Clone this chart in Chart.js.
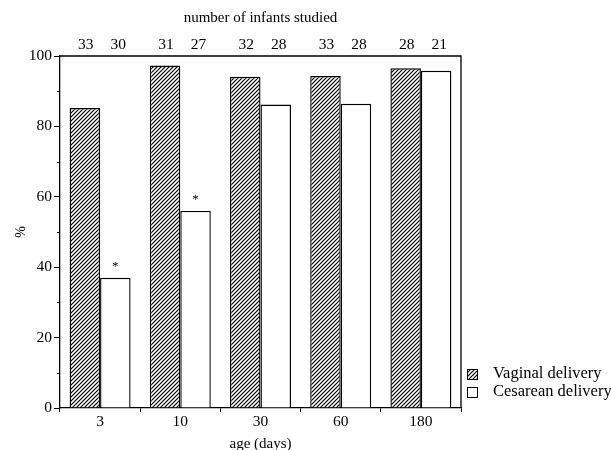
<!DOCTYPE html>
<html>
<head>
<meta charset="utf-8">
<script src="https://cdn.jsdelivr.net/npm/chart.js@4"></script>
<style>
  body { margin: 0; background: #fff; }
  canvas { display: block; }
</style>
</head>
<body>
<canvas id="myChart" width="611" height="450"></canvas>
<script>
// data
const ages = ["3", "10", "30", "60", "180"];
const vaginal = [85.2, 97.3, 94.1, 94.3, 96.5];
const cesarean = [37, 56, 86.2, 86.4, 95.8];
const vaginalN = [33, 31, 32, 33, 28];
const cesareanN = [30, 27, 28, 28, 21];
const cesareanStar = [true, true, false, false, false];
const minorTicks = [10, 30, 50, 70, 90];

const serif = '"Liberation Serif", "DejaVu Serif", serif';

// diagonal hatch for the vaginal bars
let makeHatch = () => {
    let c = document.createElement("canvas");
    c.width = 4;
    c.height = 4;
    let g = c.getContext("2d");
    g.fillStyle = "#fff";
    g.fillRect(0, 0, 4, 4);
    g.strokeStyle = "#000";
    g.lineWidth = 1.2;
    g.beginPath();
    g.moveTo(0, 4); g.lineTo(4, 0);
    g.moveTo(-1, 1); g.lineTo(1, -1);
    g.moveTo(3, 5); g.lineTo(5, 3);
    g.stroke();
    return g.createPattern(c, "repeat");
};
const hatch = makeHatch();

// extra drawing: frame, minor ticks, counts, asterisks, legend
const extras = {
    id: "extras",
    afterDatasetsDraw(chart) {
        let ctx = chart.ctx;
        let area = chart.chartArea;
        let y = chart.scales.y;
        ctx.save();
        ctx.strokeStyle = "#000";
        ctx.lineWidth = 1.3;
        ctx.beginPath();
        ctx.moveTo(area.left, area.top);
        ctx.lineTo(area.right, area.top);
        ctx.lineTo(area.right, area.bottom);
        ctx.stroke();

        ctx.lineWidth = 1;
        ctx.beginPath();
        for (let v of minorTicks) {
            let py = Math.round(y.getPixelForValue(v)) + 0.5;
            ctx.moveTo(area.left - 3, py);
            ctx.lineTo(area.left, py);
        }
        ctx.stroke();

        ctx.fillStyle = "#000";
        ctx.textAlign = "center";
        ctx.textBaseline = "middle";
        ctx.font = "15px " + serif;
        ctx.fillText("number of infants studied", (area.left + area.right) / 2, 18);

        let m0 = chart.getDatasetMeta(0).data;
        let m1 = chart.getDatasetMeta(1).data;
        ctx.font = "15.5px " + serif;
        for (let i = 0; i < ages.length; i++) {
            ctx.fillText(String(vaginalN[i]), m0[i].x + 1, 45);
            ctx.fillText(String(cesareanN[i]), m1[i].x + 3, 45);
        }

        ctx.font = "13px " + serif;
        for (let i = 0; i < ages.length; i++) {
            if (cesareanStar[i]) {
                ctx.fillText("*", m1[i].x, m1[i].y - 11);
            }
        }

        // legend
        let lx = area.right + 6;
        let rows = [
            {label: "Vaginal delivery", fill: hatch, y: 374},
            {label: "Cesarean delivery", fill: "#fff", y: 392}
        ];
        ctx.font = "16.5px " + serif;
        ctx.textAlign = "left";
        for (let r of rows) {
            ctx.fillStyle = r.fill;
            ctx.fillRect(lx, r.y - 5, 11, 11);
            ctx.strokeStyle = "#000";
            ctx.lineWidth = 1;
            ctx.strokeRect(lx + 0.5, r.y - 4.5, 10, 10);
            ctx.fillStyle = "#000";
            ctx.fillText(r.label, lx + 26, r.y);
        }
        ctx.restore();
    }
};

let myChart = new Chart("myChart", {
    type: "bar",
    data: {
        labels: ages,
        datasets: [
            {
                label: "Vaginal delivery",
                data: vaginal,
                backgroundColor: hatch,
                borderColor: "#000",
                borderWidth: 1.4
            },
            {
                label: "Cesarean delivery",
                data: cesarean,
                backgroundColor: "#fff",
                borderColor: "#000",
                borderWidth: 1.4
            }
        ]
    },
    options: {
        responsive: false,
        animation: false,
        categoryPercentage: 0.76,
        barPercentage: 1.0,
        layout: {
            padding: {top: 56, right: 150, left: 0, bottom: 0}
        },
        plugins: {
            legend: {display: false},
            tooltip: {enabled: false}
        },
        scales: {
            x: {
                afterFit: (scale) => { scale.height = 42; },
                grid: {
                    offset: true,
                    drawOnChartArea: false,
                    tickLength: 4,
                    color: "#000"
                },
                border: {color: "#000", width: 1.3},
                ticks: {
                    color: "#000",
                    padding: 1,
                    font: {family: serif, size: 15.5}
                },
                title: {
                    display: true,
                    text: "age (days)",
                    color: "#000",
                    padding: {top: 0, bottom: -2},
                    font: {family: serif, size: 15, lineHeight: 1}
                }
            },
            y: {
                min: 0,
                max: 100,
                afterFit: (scale) => { scale.width = 60; },
                grid: {
                    drawOnChartArea: false,
                    tickLength: 6,
                    color: "#000"
                },
                border: {color: "#000", width: 1.3},
                ticks: {
                    stepSize: 20,
                    color: "#000",
                    padding: 2,
                    font: {family: serif, size: 15.5}
                },
                title: {
                    display: true,
                    text: "%",
                    color: "#000",
                    padding: {top: 14, bottom: 0},
                    font: {family: serif, size: 14, lineHeight: 1}
                }
            }
        }
    },
    plugins: [extras]
});
</script>
</body>
</html>
